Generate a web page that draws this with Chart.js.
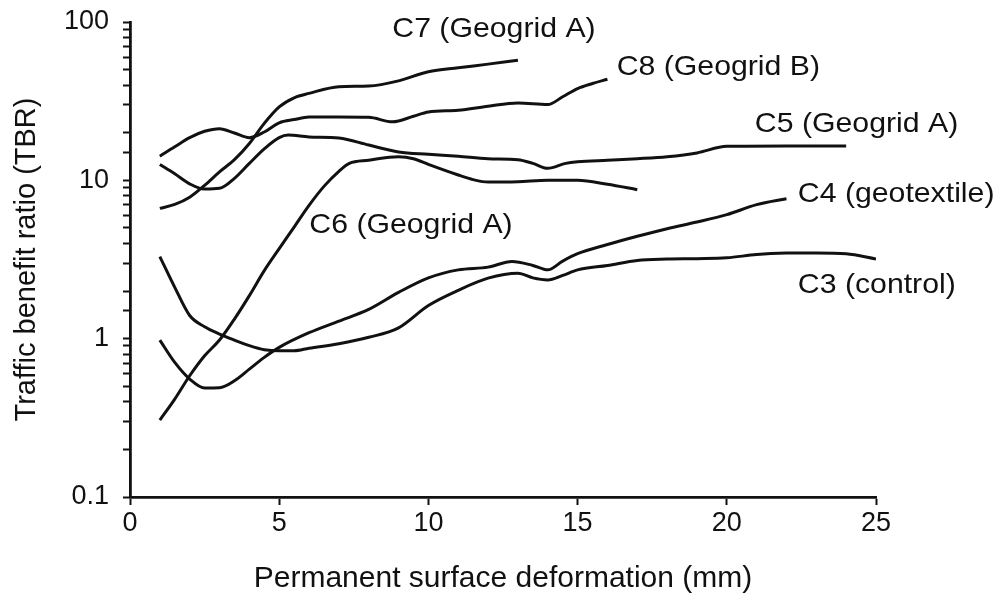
<!DOCTYPE html>
<html>
<head>
<meta charset="utf-8">
<title>Traffic benefit ratio</title>
<script src="https://cdn.jsdelivr.net/npm/chart.js@4.4.1/dist/chart.umd.min.js"></script>
<style>
  html, body { margin: 0; padding: 0; background: #fff; }
  #wrap { width: 1002px; height: 605px; }
</style>
</head>
<body>
<div id="wrap"><canvas id="graficoTBR" width="1002" height="605"></canvas></div>
<script>
// Deformacion superficial permanente (mm) y TBR de cada seccion
const c7X = [1, 1.5, 2, 2.5, 3, 3.5, 4, 4.5, 5, 5.5, 6, 7, 8, 9, 10, 11, 12, 13];
const c7Y = [6.65, 7.05, 7.83, 9.3, 11.3, 13.5, 17.1, 22.9, 29.1, 33.2, 35.4, 39.0, 39.4, 42.5, 48.5, 51.4, 54.2, 57.4];

const c8X = [1, 1.5, 2, 2.5, 3, 3.5, 4, 4.5, 5, 5.5, 6, 7, 8, 8.8, 9.5, 10, 11, 12, 13, 14, 14.5, 15, 15.5, 16];
const c8Y = [14.2, 16.3, 18.6, 20.4, 21.2, 19.9, 18.6, 20.2, 23.1, 24.2, 25.1, 25.1, 25.0, 23.4, 25.4, 27.0, 27.7, 29.4, 30.8, 30.1, 33.7, 38.0, 40.9, 43.5];

const c5X = [1, 1.5, 2, 2.5, 3, 3.5, 4, 4.5, 5, 5.3, 6, 7, 8, 9, 10, 11, 12, 13, 13.5, 14, 14.6, 15, 16, 17, 18, 19, 20, 22, 24];
const c5Y = [12.6, 11.0, 9.5, 8.8, 8.9, 10.3, 12.8, 15.8, 18.6, 19.3, 18.8, 18.5, 16.7, 15.1, 14.6, 14.2, 13.7, 13.5, 12.8, 11.9, 12.8, 13.1, 13.4, 13.7, 14.1, 14.9, 16.4, 16.5, 16.5];

const c6X = [1, 1.5, 2, 2.5, 3, 3.5, 4, 4.5, 5, 5.5, 6, 6.5, 7, 7.35, 8, 9, 9.5, 10, 11, 11.5, 12, 13, 14, 15, 16, 17];
const c6Y = [0.306, 0.415, 0.583, 0.78, 0.98, 1.33, 1.87, 2.69, 3.70, 5.07, 6.95, 9.16, 11.4, 12.8, 13.4, 14.1, 13.7, 12.6, 10.8, 10.1, 9.75, 9.8, 10.0, 10.0, 9.44, 8.73];

const c4X = [1, 1.5, 2, 2.5, 3, 3.5, 4, 4.5, 5, 6, 7, 8, 9, 10, 11, 12, 12.8, 13.5, 14, 14.5, 15, 16, 17, 18, 19, 20, 21, 22];
const c4Y = [0.98, 0.708, 0.556, 0.488, 0.49, 0.542, 0.642, 0.762, 0.881, 1.09, 1.29, 1.53, 1.96, 2.42, 2.72, 2.83, 3.07, 2.90, 2.72, 3.09, 3.44, 3.93, 4.43, 4.95, 5.45, 6.07, 7.02, 7.65];

const c3X = [1, 1.5, 2, 2.5, 3, 3.5, 4, 4.5, 5, 5.5, 6, 7, 8, 9, 10, 11, 12, 13, 13.5, 14, 14.5, 15, 16, 17, 18, 19, 20, 21, 22, 23, 24, 25];
const c3Y = [3.3, 2.11, 1.40, 1.19, 1.07, 0.98, 0.904, 0.852, 0.838, 0.838, 0.87, 0.93, 1.02, 1.17, 1.62, 2.02, 2.41, 2.59, 2.42, 2.35, 2.51, 2.72, 2.90, 3.12, 3.18, 3.20, 3.24, 3.40, 3.47, 3.48, 3.44, 3.19];

const nombres = ['C7 (Geogrid A)', 'C8 (Geogrid B)', 'C5 (Geogrid A)', 'C6 (Geogrid A)', 'C4 (geotextile)', 'C3 (control)'];

// Donde va el texto de cada curva (en unidades de los ejes)
const etiquetaX = [8.79, 16.31, 20.94, 6.01, 22.38, 22.38];
const etiquetaY = [80.4, 46.2, 20.3, 4.62, 7.26, 1.93];

const xTicks = [0, 5, 10, 15, 20, 25];

(function(){
  'use strict';
  const FUENTE = '"Liberation Sans", Arial, Helvetica, sans-serif';
  const toPts = (xs, ys) => xs.map((x, i) => ({ x: x, y: ys[i] }));
  const series = [[c7X, c7Y], [c8X, c8Y], [c5X, c5Y], [c6X, c6Y], [c4X, c4Y], [c3X, c3Y]];

  const datasets = series.map((s, i) => ({
    label: nombres[i],
    data: toPts(s[0], s[1]),
    borderColor: '#111',
    borderWidth: 3,
    pointRadius: 0,
    cubicInterpolationMode: 'monotone',
    fill: false
  }));

  // Rotulos junto a cada curva, algo estirados en horizontal
  const rotulos = {
    id: 'rotulos',
    afterDatasetsDraw(chart) {
      const { ctx, scales } = chart;
      ctx.save();
      ctx.font = '28px ' + FUENTE;
      ctx.fillStyle = '#111';
      ctx.textAlign = 'left';
      ctx.textBaseline = 'alphabetic';
      nombres.forEach((t, i) => {
        const px = scales.x.getPixelForValue(etiquetaX[i]);
        const py = scales.y.getPixelForValue(etiquetaY[i]);
        ctx.save();
        ctx.translate(px, py);
        ctx.scale(1.08, 1);
        ctx.fillText(t, 0, 0);
        ctx.restore();
      });
      ctx.restore();
    }
  };

  const ctx = document.getElementById('graficoTBR');
  new Chart(ctx, {
    type: 'line',
    data: { datasets: datasets },
    options: {
      responsive: false,
      devicePixelRatio: 1,
      animation: false,
      events: [],
      layout: { padding: { left: 0, right: 126, top: 22, bottom: 0 } },
      plugins: { legend: { display: false }, tooltip: { enabled: false } },
      scales: {
        x: {
          type: 'linear',
          min: 0,
          max: 25,
          afterBuildTicks: (axis) => { axis.ticks = xTicks.map(v => ({ value: v })); },
          afterFit: (axis) => { axis.height = 108; },
          border: { display: true, color: '#111', width: 2.8 },
          grid: { drawOnChartArea: false, drawTicks: true, tickLength: 8, tickColor: '#111', tickWidth: 2 },
          ticks: { color: '#111', font: { family: FUENTE, size: 27 }, padding: 2, maxRotation: 0 },
          title: {
            display: true,
            text: 'Permanent surface deformation (mm)',
            color: '#111',
            font: { family: FUENTE, size: 30 },
            padding: { top: 0, bottom: 8 }
          }
        },
        y: {
          type: 'logarithmic',
          min: 0.1,
          max: 100,
          afterFit: (axis) => {
            axis.width = 130;
            // el "100" puede salirse por arriba; el margen lo da layout.padding
            axis.paddingTop = 0;
            axis.paddingBottom = 0;
          },
          border: { display: true, color: '#111', width: 2.8 },
          grid: { drawOnChartArea: false, drawTicks: true, tickLength: 7, tickColor: '#111', tickWidth: 2 },
          ticks: {
            color: '#111',
            font: { family: FUENTE, size: 27 },
            padding: 14,
            autoSkip: false,
            callback: (v) => {
              const l = Math.log10(v);
              return Math.abs(l - Math.round(l)) < 1e-6 ? String(v) : '';
            }
          },
          title: {
            display: true,
            text: 'Traffic benefit ratio (TBR)',
            color: '#111',
            font: { family: FUENTE, size: 29 },
            padding: { top: 10, bottom: 0 }
          }
        }
      }
    },
    plugins: [rotulos]
  });
})();
</script>
</body>
</html>
